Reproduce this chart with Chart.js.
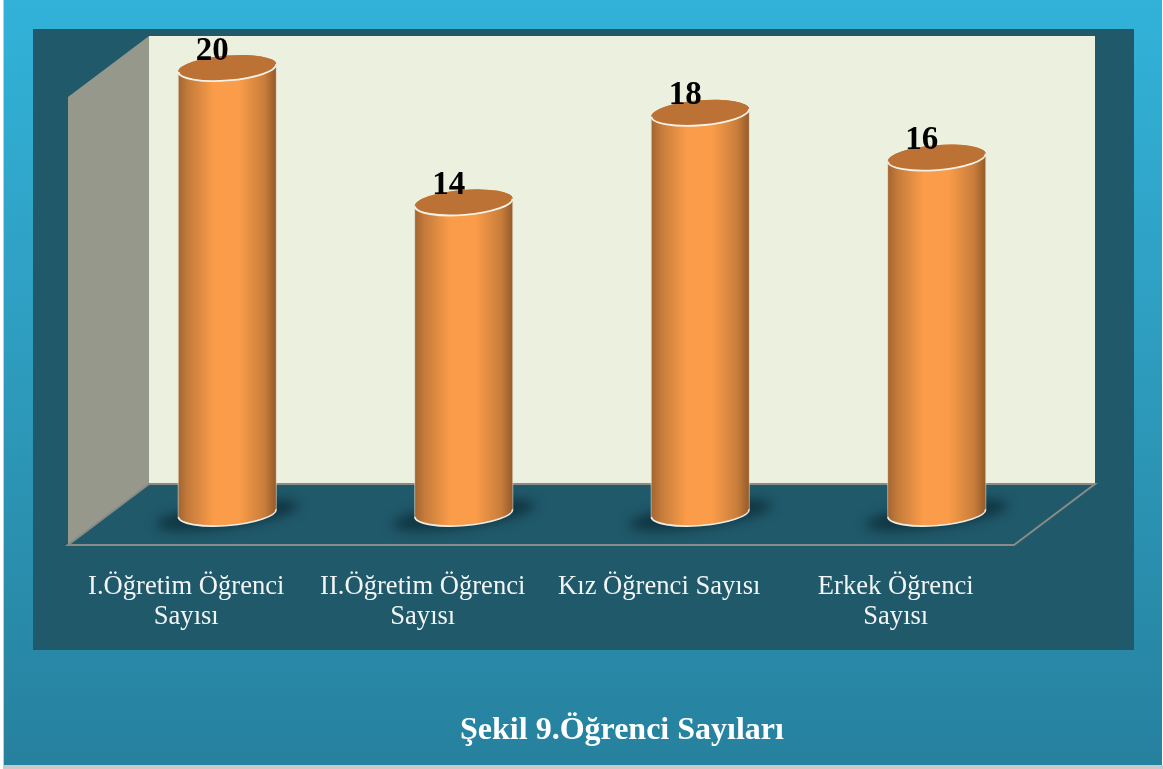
<!DOCTYPE html>
<html lang="tr">
<head>
<meta charset="utf-8">
<style>
html,body{margin:0;padding:0;background:#fff;overflow:hidden}
#wrap{position:absolute;left:0;top:0;width:1163px;height:769px}
</style>
<script src="https://cdn.jsdelivr.net/npm/chart.js@4/dist/chart.umd.js"></script>
</head>
<body>
<div id="wrap"><canvas id="c" width="1163" height="769"></canvas></div>
<script>
const categories = [
  ['I.Öğretim Öğrenci', 'Sayısı'],
  ['II.Öğretim Öğrenci', 'Sayısı'],
  ['Kız Öğrenci Sayısı'],
  ['Erkek Öğrenci', 'Sayısı']
];
const values = [20, 14, 18, 16];
const chartTitle = 'Şekil 9.Öğrenci Sayıları';

const FONT = '"Liberation Serif","Times New Roman",serif';
const DEPTH_X = 81, DEPTH_Y = 61;       // back wall offset from the front plane
const BAR_DX = 41, BAR_DY = 30;         // bars stand mid-depth
const TILT = -4.6 * Math.PI / 180;
const MINOR = 12.5;

function ellipse(ctx, x, y, a, b, rot, start, end) {
  ctx.ellipse(x, y, a, b, rot, start, end);
}

function cylinderGradient(ctx, cx, hw) {
  const g = ctx.createLinearGradient(cx - hw, 0, cx + hw, 0);
  g.addColorStop(0, '#A3642F');
  g.addColorStop(0.1, '#C47B3B');
  g.addColorStop(0.36, '#FA9C49');
  g.addColorStop(0.62, '#FA9C49');
  g.addColorStop(0.88, '#C87D3B');
  g.addColorStop(1, '#945A28');
  return g;
}

// Bars keep their scale-derived geometry; only the shape is a cylinder.
Chart.BarElement.prototype.draw = function (ctx) {
  const p = this.getProps(['x', 'y', 'base', 'width'], true);
  const cx = p.x + BAR_DX, top = p.y - BAR_DY + 1, bot = p.base - BAR_DY - 2, hw = p.width / 2;
  const dy = hw * Math.tan(-TILT);      // height difference between both ends of an ellipse

  ctx.save();
  // body
  ctx.beginPath();
  ellipse(ctx, cx, top, hw, MINOR, TILT, Math.PI, 0, true);
  ellipse(ctx, cx, bot, hw, MINOR, TILT, 0, Math.PI, false);
  ctx.closePath();
  ctx.fillStyle = cylinderGradient(ctx, cx, hw);
  ctx.fill();

  // thin light sides
  ctx.strokeStyle = 'rgba(225,225,215,0.6)';
  ctx.lineWidth = 1;
  ctx.beginPath();
  ctx.moveTo(cx - hw, top + dy); ctx.lineTo(cx - hw, bot + dy);
  ctx.moveTo(cx + hw, top - dy); ctx.lineTo(cx + hw, bot - dy);
  ctx.stroke();

  // bottom rim
  ctx.strokeStyle = '#EDEDE6';
  ctx.lineWidth = 1.6;
  ctx.beginPath();
  ellipse(ctx, cx, bot, hw, MINOR, TILT, 0, Math.PI, false);
  ctx.stroke();

  // top cap
  ctx.beginPath();
  ellipse(ctx, cx, top, hw, MINOR, TILT, 0, Math.PI * 2);
  ctx.fillStyle = '#BC7235';
  ctx.fill();
  ctx.strokeStyle = '#F4F2E8';
  ctx.lineWidth = 1.8;
  ctx.beginPath();
  ellipse(ctx, cx, top, hw, MINOR, TILT, 0, Math.PI, false);
  ctx.stroke();
  ctx.restore();
};

const scenePlugin = {
  id: 'scene',
  beforeDraw(chart) {
    const ctx = chart.ctx, W = chart.width, H = chart.height;
    ctx.save();
    ctx.fillStyle = '#FFFFFF';
    ctx.fillRect(0, 0, W, H);
    ctx.fillStyle = '#C9C9C9';
    ctx.fillRect(3, 0, 1, H - 3);
    ctx.fillRect(3, H - 4, W - 3, 4);
    const g = ctx.createLinearGradient(0, 0, 0, 765);
    g.addColorStop(0, '#32B2D9');
    g.addColorStop(0.45, '#2E9DBF');
    g.addColorStop(1, '#26819E');
    ctx.fillStyle = g;
    ctx.fillRect(4, 0, W - 5, 765);
    ctx.fillStyle = '#20596A';
    ctx.fillRect(33, 29, 1101, 621);
    ctx.restore();
  },
  beforeDatasetsDraw(chart) {
    const ctx = chart.ctx, a = chart.chartArea;
    const L = a.left, R = a.right, T = a.top, B = a.bottom;
    ctx.save();
    // back wall
    ctx.fillStyle = '#ECF0DF';
    ctx.fillRect(L + DEPTH_X, T - DEPTH_Y, R - L, B - T);
    // side wall
    ctx.beginPath();
    ctx.moveTo(L + DEPTH_X, T - DEPTH_Y);
    ctx.lineTo(L, T);
    ctx.lineTo(L, B);
    ctx.lineTo(L + DEPTH_X, B - DEPTH_Y);
    ctx.closePath();
    ctx.fillStyle = '#95988A';
    ctx.fill();
    // floor outline
    ctx.strokeStyle = '#888B86';
    ctx.lineWidth = 2;
    ctx.beginPath();
    ctx.moveTo(L + DEPTH_X, B - DEPTH_Y);
    ctx.lineTo(R + DEPTH_X, B - DEPTH_Y);
    ctx.lineTo(R, B);
    ctx.lineTo(L, B);
    ctx.closePath();
    ctx.stroke();
    // contact shadows
    const meta = chart.getDatasetMeta(0);
    meta.data.forEach(el => {
      ctx.save();
      ctx.filter = 'blur(6px)';
      ctx.fillStyle = 'rgba(10,38,48,0.72)';
      ctx.beginPath();
      ctx.ellipse(el.x + BAR_DX, el.base - BAR_DY, 72, 12, -8 * Math.PI / 180, 0, Math.PI * 2);
      ctx.fill();
      ctx.restore();
    });
    ctx.restore();
  },
  afterDatasetsDraw(chart) {
    const ctx = chart.ctx;
    const meta = chart.getDatasetMeta(0);
    ctx.save();
    ctx.font = 'bold 33px ' + FONT;
    ctx.fillStyle = '#000000';
    ctx.textAlign = 'center';
    ctx.textBaseline = 'middle';
    meta.data.forEach((el, i) => {
      ctx.fillText(String(values[i]), el.x + BAR_DX - 15, el.y - BAR_DY - 16);
    });
    ctx.restore();
  },
  afterLayout(chart) {
    const t = chart.titleBlock;
    if (t) { t.left = 100; t.right = 1144; t.top = 712; t.bottom = 751; }
  }
};

new Chart(document.getElementById('c'), {
  type: 'bar',
  data: {
    labels: categories,
    datasets: [{
      data: values,
      backgroundColor: '#F79A48',
      borderWidth: 0,
      barPercentage: 0.415,
      categoryPercentage: 1,
      clip: false
    }]
  },
  plugins: [scenePlugin],
  options: {
    responsive: false,
    animation: false,
    layout: { padding: { left: 68, right: 149, top: 97, bottom: 0 } },
    plugins: {
      legend: { display: false },
      tooltip: { enabled: false },
      title: {
        display: true,
        text: chartTitle,
        position: 'bottom',
        color: '#FFFFFF',
        padding: 0,
        font: { family: FONT, size: 32, weight: 'bold', lineHeight: 1.2 }
      }
    },
    scales: {
      x: {
        border: { display: false },
        grid: { display: false, drawTicks: false },
        ticks: {
          color: '#F2F5F5',
          padding: 27,
          maxRotation: 0,
          autoSkip: false,
          font: { family: FONT, size: 26.6, lineHeight: 1.13 }
        },
        afterFit(scale) { scale.height = 769 - 545 - 38.4; }
      },
      y: { display: false, min: 0, max: 20 }
    }
  }
});
</script>
</body>
</html>
